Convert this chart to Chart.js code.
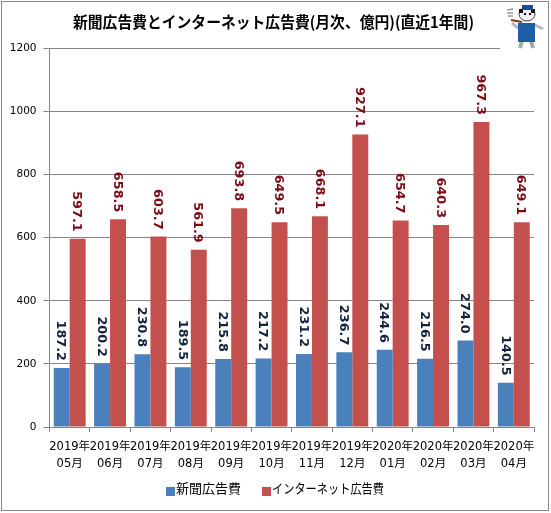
<!DOCTYPE html>
<html>
<head>
<meta charset="utf-8">
<style>
  html, body { margin: 0; padding: 0; background: #fff; }
  #wrap { position: relative; width: 551px; height: 513px; }
</style>
<script src="https://cdn.jsdelivr.net/npm/chart.js@4"></script>
</head>
<body>
<div id="wrap"><canvas id="adChart" width="551" height="513"></canvas></div>
<script>
const categories = [
  ['2019年', '05月'], ['2019年', '06月'], ['2019年', '07月'], ['2019年', '08月'],
  ['2019年', '09月'], ['2019年', '10月'], ['2019年', '11月'], ['2019年', '12月'],
  ['2020年', '01月'], ['2020年', '02月'], ['2020年', '03月'], ['2020年', '04月']
];
const newspaper = [187.2, 200.2, 230.8, 189.5, 215.8, 217.2, 231.2, 236.7, 244.6, 216.5, 274.0, 140.5];
const internet = [597.1, 658.5, 603.7, 561.9, 693.8, 649.5, 668.1, 927.1, 654.7, 640.3, 967.3, 649.1];

const titleText = '新聞広告費とインターネット広告費(月次、億円)(直近1年間)';
const fontStack = '"DejaVu Sans", "Noto Sans CJK JP", sans-serif';
const jpFont = '"Noto Sans CJK JP", "DejaVu Sans", sans-serif';

// Rotated value labels above each bar
const valueLabels = {
  id: 'valueLabels',
  afterDatasetsDraw(chart) {
    const ctx = chart.ctx;
    const colors = ['#12233f', '#7a0a14'];
    chart.data.datasets.forEach((ds, i) => {
      chart.getDatasetMeta(i).data.forEach((bar, j) => {
        ctx.save();
        ctx.translate(bar.x - 1, bar.y - 7);
        ctx.rotate(Math.PI / 2);
        ctx.font = 'bold 12.8px ' + fontStack;
        ctx.fillStyle = colors[i];
        ctx.textAlign = 'right';
        ctx.textBaseline = 'middle';
        ctx.fillText(ds.data[j].toFixed(1), 0, 0);
        ctx.restore();
      });
    });
  }
};

// Title is squeezed a little, the original's katakana run narrow
const chartTitle = {
  id: 'chartTitle',
  afterDraw(chart) {
    const ctx = chart.ctx;
    ctx.save();
    ctx.font = 'bold 15.5px ' + jpFont;
    ctx.fillStyle = '#000';
    ctx.textBaseline = 'middle';
    ctx.fillText(titleText, 73, 22, 401);
    ctx.restore();
  }
};

// Legend with the swatch sitting tight against its text, as in the original
const bottomLegend = {
  id: 'bottomLegend',
  afterDraw(chart) {
    const ctx = chart.ctx;
    const swatchX = [166, 262];
    const textWidth = [65, 112];
    ctx.save();
    ctx.font = '13px ' + jpFont;
    ctx.textBaseline = 'middle';
    chart.data.datasets.forEach((ds, i) => {
      ctx.fillStyle = ds.backgroundColor;
      ctx.fillRect(swatchX[i], 487, 9, 9);
      ctx.fillStyle = '#000';
      ctx.fillText(ds.label, swatchX[i] + 10, 488.5, textWidth[i]);
    });
    ctx.restore();
  }
};

// Outer frame, plus the little mascot in the corner
const decoration = {
  id: 'decoration',
  afterDraw(chart) {
    const ctx = chart.ctx;
    ctx.save();
    ctx.strokeStyle = '#868686';
    ctx.lineWidth = 1;
    ctx.strokeRect(1.5, 1.5, 547, 509);

    ctx.fillStyle = '#fff';
    ctx.fillRect(500, 4, 47, 47);
    // smoke
    ctx.strokeStyle = '#999';
    ctx.lineWidth = 1.5;
    ctx.beginPath();
    ctx.moveTo(507, 10); ctx.lineTo(513, 9);
    ctx.moveTo(507, 13); ctx.lineTo(513, 13);
    ctx.moveTo(508, 16); ctx.lineTo(513, 16);
    ctx.stroke();
    // arms and pipe
    ctx.strokeStyle = '#b9b9b9';
    ctx.lineWidth = 3;
    ctx.beginPath();
    ctx.moveTo(518, 28); ctx.lineTo(512, 23);
    ctx.moveTo(535, 25); ctx.lineTo(543, 29);
    ctx.stroke();
    ctx.strokeStyle = '#7a3a1a';
    ctx.lineWidth = 2;
    ctx.beginPath();
    ctx.moveTo(511, 20); ctx.lineTo(522, 22);
    ctx.stroke();
    // legs
    ctx.strokeStyle = '#a8a8a8';
    ctx.lineWidth = 4;
    ctx.beginPath();
    ctx.moveTo(522, 41); ctx.lineTo(520, 48);
    ctx.moveTo(531, 41); ctx.lineTo(533, 48);
    ctx.stroke();
    // vest
    ctx.fillStyle = '#1f5fa8';
    ctx.fillRect(518, 23, 17, 19);
    // head
    ctx.fillStyle = '#f4f4f4';
    ctx.strokeStyle = '#444';
    ctx.lineWidth = 1;
    ctx.beginPath();
    ctx.ellipse(527, 14, 8, 7, 0, 0, Math.PI * 2);
    ctx.fill();
    ctx.stroke();
    // ears and eyes
    ctx.fillStyle = '#111';
    ctx.fillRect(519, 9, 4, 4);
    ctx.fillRect(531, 9, 4, 4);
    ctx.fillRect(524, 13, 2, 2);
    ctx.fillRect(529, 13, 2, 2);
    // hat
    ctx.fillStyle = '#1d4f8f';
    ctx.fillRect(522, 5, 11, 5);
    ctx.restore();
  }
};

new Chart(document.getElementById('adChart'), {
  type: 'bar',
  data: {
    labels: categories,
    datasets: [
      { label: '新聞広告費', data: newspaper, backgroundColor: '#4a81bd' },
      { label: 'インターネット広告費', data: internet, backgroundColor: '#c4504d' }
    ]
  },
  options: {
    responsive: false,
    animation: false,
    devicePixelRatio: 1,
    layout: { padding: { left: 0, right: 17, top: 48.5, bottom: 0 } },
    datasets: { bar: { categoryPercentage: 0.79, barPercentage: 1 } },
    plugins: {
      title: { display: false },
      legend: { display: false },
      tooltip: { enabled: false }
    },
    scales: {
      x: {
        afterFit(scale) { scale.height = 86; },
        grid: { display: true, drawOnChartArea: false, color: '#868686', tickLength: 5, offset: true },
        border: { color: '#868686' },
        ticks: {
          color: '#000',
          maxRotation: 0,
          minRotation: 0,
          autoSkip: false,
          padding: 6,
          font: { family: fontStack, size: 11.5, lineHeight: 1.5 }
        }
      },
      y: {
        min: 0,
        max: 1200,
        afterFit(scale) { scale.width = 49.5; },
        grid: { color: '#868686', tickLength: 6 },
        border: { color: '#868686' },
        ticks: {
          stepSize: 200,
          color: '#000',
          padding: 7,
          callback: value => String(value),
          font: { family: fontStack, size: 10.5 }
        }
      }
    }
  },
  plugins: [valueLabels, chartTitle, bottomLegend, decoration]
});
</script>
</body>
</html>
